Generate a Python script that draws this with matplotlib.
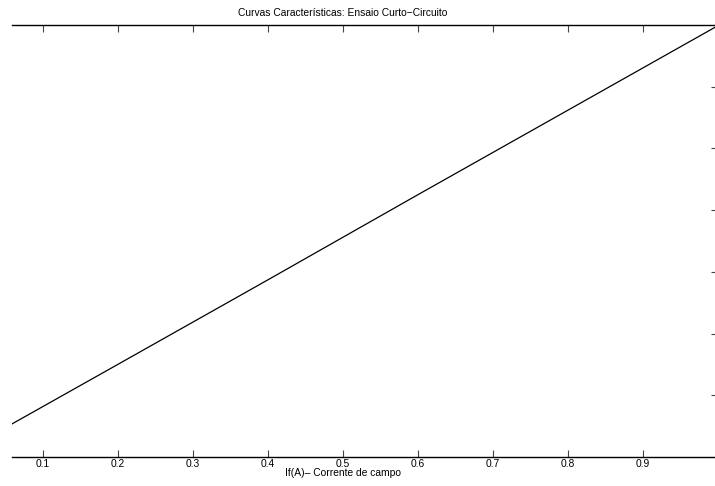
import matplotlib
matplotlib.use("Agg")
import matplotlib.pyplot as plt

plt.rcParams['font.family'] = ['Liberation Sans', 'DejaVu Sans']

# Data
if_current = [0.059, 0.2, 0.4, 0.6, 0.8, 1.0]
icc = [0.536, 1.50, 2.87, 4.25, 5.62, 6.99]
x_ticks = [0.1, 0.2, 0.3, 0.4, 0.5, 0.6, 0.7, 0.8, 0.9]
x_tick_labels = ['0.1', '0.2', '0.3', '0.4', '0.5', '0.6', '0.7', '0.8', '0.9']
y_ticks = [1, 2, 3, 4, 5, 6]

W, H = 715, 486
FS = 7.35
fig = plt.figure(figsize=(W / 100, H / 100), dpi=100)
left, right, bottom, top = 12, 718, 457, 25
ax = fig.add_axes([left / W, 1 - bottom / H, (right - left) / W, (bottom - top) / H])

ax.plot(if_current, icc, color='black', linewidth=0.9)
ax.set_xlim(0.059, 1.0)
ax.set_ylim(0, 7)

ax.spines['left'].set_visible(False)
for s in ['top', 'bottom', 'right']:
    ax.spines[s].set_linewidth(1.0)
    ax.spines[s].set_color('black')

ax.set_xticks(x_ticks)
ax.set_xticklabels(x_tick_labels, fontsize=FS)
ax.set_yticks(y_ticks)
ax.tick_params(axis='x', direction='in', top=True, bottom=True, length=5, width=0.8,
               color='#444444', pad=1.5)
ax.tick_params(axis='y', direction='in', left=False, right=True, labelleft=False,
               labelright=False, length=5, width=0.8, color='#444444')

ax.set_xlabel('If(A)\u2013 Corrente de campo', fontsize=FS, va='center')
ax.xaxis.set_label_coords((343 - left) / (right - left), -(473 - bottom) / (bottom - top))

fig.text(343 / W, 1 - 12.5 / H, 'Curvas Características: Ensaio Curto\u2212Circuito',
         ha='center', va='center', fontsize=FS)

fig.savefig('out.png', dpi=100)
